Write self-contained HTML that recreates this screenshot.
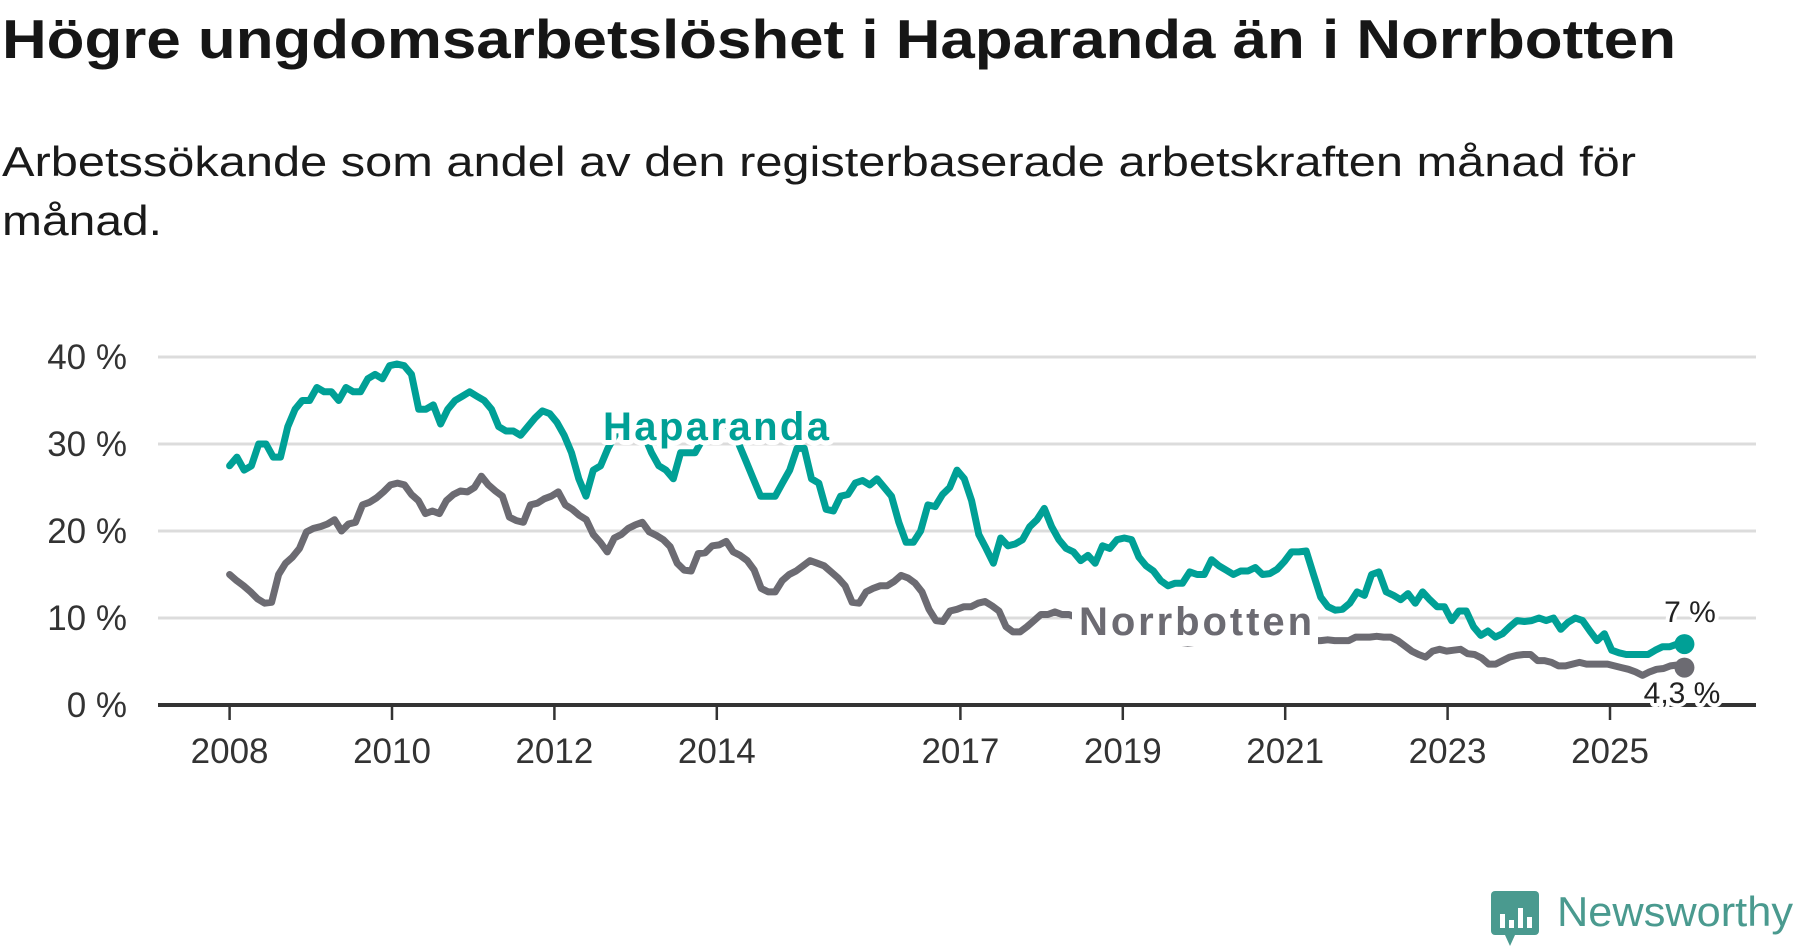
<!DOCTYPE html>
<html><head><meta charset="utf-8"><style>
html,body{margin:0;padding:0;background:#fff;}
svg{display:block;font-family:"Liberation Sans",sans-serif;}
</style></head><body>
<svg id="chart" width="1800" height="948" viewBox="0 0 1800 948">
<text x="2" y="58" font-size="55" font-weight="bold" fill="#161616" textLength="1674" lengthAdjust="spacingAndGlyphs">Högre ungdomsarbetslöshet i Haparanda än i Norrbotten</text>
<text x="2" y="176" font-size="42" fill="#1a1a1a" textLength="1634" lengthAdjust="spacingAndGlyphs">Arbetssökande som andel av den registerbaserade arbetskraften månad för</text>
<text x="2" y="235" font-size="42" fill="#1a1a1a" textLength="160" lengthAdjust="spacingAndGlyphs">månad.</text>
<g id="grid"></g><g id="xaxis"></g><g id="series"></g><g id="labels"></g>
<g>
<rect x="1491" y="891" width="48" height="44" rx="4" fill="#4a9a8f"/>
<polygon points="1505,935 1515,935 1510,946" fill="#4a9a8f"/>
<rect x="1500" y="914" width="5" height="14" fill="#fff"/><rect x="1509" y="920" width="5" height="8" fill="#fff"/><rect x="1518" y="908" width="5" height="20" fill="#fff"/><rect x="1527" y="917" width="5" height="11" fill="#fff"/>
<text x="1557" y="926" font-size="42" fill="#4a9a8f" textLength="236" lengthAdjust="spacingAndGlyphs">Newsworthy</text>
</g>
</svg>
<script>
const yTicks=[0,10,20,30,40];
const yTickLabels=["0 %","10 %","20 %","30 %","40 %"];
const xTicks=[2008,2010,2012,2014,2017,2019,2021,2023,2025];
const startYear=2008, endYear=2025+11/12;
const haparanda=[27.5,28.5,27,27.5,30,30,28.5,28.5,32,34,35,35,36.5,36,36,35,36.5,36,36,37.5,38,37.5,39,39.2,39,38,34,34,34.5,32.3,34,35,35.5,36,35.5,35,34,32,31.5,31.5,31,32,33,33.8,33.5,32.5,31,29,26,24,27,27.5,29.5,31,32,31.5,32,31,29,27.5,27,26,29,29,29,30.5,31,32,32.5,31.5,30,28,26,24,24,24,25.5,27,29.5,29.5,26,25.5,22.5,22.3,24,24.2,25.5,25.8,25.3,26,25,24,21,18.7,18.7,20,23,22.8,24.2,25,27,26,23.5,19.6,18,16.3,19.2,18.3,18.5,19,20.5,21.3,22.6,20.5,19,18,17.6,16.6,17.2,16.3,18.3,18,19,19.2,19,17,16,15.4,14.3,13.7,14,14,15.3,15,15,16.7,16,15.5,15,15.4,15.4,15.8,15,15.1,15.6,16.5,17.6,17.6,17.7,15,12.4,11.3,10.9,11,11.7,13,12.6,15,15.3,13,12.6,12.1,12.8,11.7,13,12.1,11.3,11.3,9.7,10.8,10.8,9,8,8.5,7.8,8.2,9,9.7,9.6,9.7,10,9.7,10,8.7,9.5,10,9.7,8.5,7.4,8.2,6.3,6,5.8,5.8,5.8,5.8,6.3,6.7,6.7,7,7];
const norrbotten=[15,14.3,13.7,13,12.2,11.7,11.8,15,16.3,17,18,19.9,20.3,20.5,20.8,21.3,20,20.8,21,23,23.3,23.8,24.5,25.3,25.5,25.3,24.2,23.5,22,22.3,22,23.5,24.2,24.6,24.5,25,26.3,25.3,24.6,24,21.6,21.2,21,23,23.2,23.7,24,24.5,23,22.5,21.8,21.3,19.6,18.7,17.6,19.2,19.6,20.3,20.7,21,19.9,19.5,19,18.2,16.3,15.5,15.4,17.4,17.5,18.3,18.4,18.8,17.6,17.2,16.6,15.5,13.4,13,13,14.3,15,15.4,16,16.6,16.3,16,15.3,14.6,13.7,11.8,11.7,13,13.4,13.7,13.7,14.2,14.9,14.6,14,13,11,9.7,9.6,10.8,11,11.3,11.3,11.7,11.9,11.4,10.8,9,8.4,8.4,9,9.7,10.4,10.4,10.7,10.4,10.4,10.1,9.5,8.7,8.6,8.3,8,7.9,7.8,7.6,7.8,8.1,7.9,7.7,7.5,7.3,7.2,7.1,7.2,7.4,7.6,7.8,7.9,8,7.9,7.8,7.6,7.5,7.4,7.5,7.6,7.6,7.6,7.5,7.4,7.4,7.4,7.5,7.4,7.4,7.4,7.8,7.8,7.8,7.9,7.8,7.8,7.4,6.8,6.2,5.8,5.5,6.2,6.4,6.2,6.3,6.4,5.9,5.8,5.4,4.7,4.7,5.1,5.5,5.7,5.8,5.8,5.1,5.1,4.9,4.5,4.5,4.7,4.9,4.7,4.7,4.7,4.7,4.5,4.3,4.1,3.8,3.4,3.8,4.1,4.2,4.5,4.6,4.3];
const seriesNames=["Haparanda","Norrbotten"];
const endLabels=["7 %","4,3 %"];

const NS="http://www.w3.org/2000/svg";
const X0=229.6, PX_YEAR=81.2, Y0=705, PX_PCT=8.7;
function xScale(yr){return X0+(yr-2008)*PX_YEAR;}
function yScale(v){return Y0-v*PX_PCT;}
function mk(tag,attrs,parent){const e=document.createElementNS(NS,tag);for(const k in attrs)e.setAttribute(k,attrs[k]);parent.appendChild(e);return e;}
const grid=document.getElementById('grid');
yTicks.forEach((t,i)=>{
  if(t>0){const l=mk('line',{x1:158,x2:1756,y1:yScale(t),y2:yScale(t),stroke:'#dcdcdc','stroke-width':3},grid);
  
  }
  const tx=mk('text',{x:127,y:yScale(t)+12,'text-anchor':'end','font-size':35,fill:'#333'},grid);
  tx.textContent=yTickLabels[i];
  
  
});
const xa=document.getElementById('xaxis');
const base=mk('line',{x1:158,x2:1756,y1:Y0,y2:Y0,stroke:'#333','stroke-width':4},xa);


xTicks.forEach(t=>{
  const x=xScale(t);
  const tk=mk('line',{x1:x,x2:x,y1:Y0,y2:Y0+15,stroke:'#333','stroke-width':2.5},xa);
  
  
  const tx=mk('text',{x:x,y:763,'text-anchor':'middle','font-size':35,fill:'#333'},xa);
  tx.textContent=t;
  
  
});
const sg=document.getElementById('series');
const colors=['#00a096','#6c6b72'];
[haparanda,norrbotten].forEach((data,si)=>{
  const n=data.length;
  const pts=data.map((v,i)=>xScale(startYear+i*(endYear-startYear)/(n-1)).toFixed(1)+','+yScale(v).toFixed(1));
  const p=mk('polyline',{points:pts.join(' '),fill:'none',stroke:colors[si],'stroke-width':7,'stroke-linejoin':'round','stroke-linecap':'round'},sg);
  
  
});
[norrbotten,haparanda].forEach((data,k)=>{
  const si=k===0?1:0;
  const c=mk('circle',{cx:xScale(endYear),cy:yScale(data[data.length-1]),r:10,fill:colors[si]},sg);
  
  
});
const lg=document.getElementById('labels');
const bg=mk('rect',{x:1072,y:600,width:246,height:46,fill:'#fff'},lg);


function lbl(txt,x,y,size,w,col,bold,name,anchor,sw){
  const t=mk('text',{x:x,y:y,'font-size':size,fill:col,'font-weight':bold?'bold':'normal',stroke:'#fff','stroke-width':sw||8,'paint-order':'stroke','stroke-linejoin':'round','text-anchor':anchor||'start'},lg);
  if(w)t.setAttribute('textLength',w);
  t.textContent=txt;
  
  
}
lbl(seriesNames[0],603,440,40,226,'#00a096',true,'haparanda-label',null,10);
lbl(seriesNames[1],1079,635,40,233,'#6c6b72',true,'norrbotten-label',null,10);
lbl(endLabels[0],1690,622,30,null,'#222',false,'haparanda-end-label','middle');
lbl(endLabels[1],1682,703,30,null,'#222',false,'norrbotten-end-label','middle');
</script>
</body></html>
